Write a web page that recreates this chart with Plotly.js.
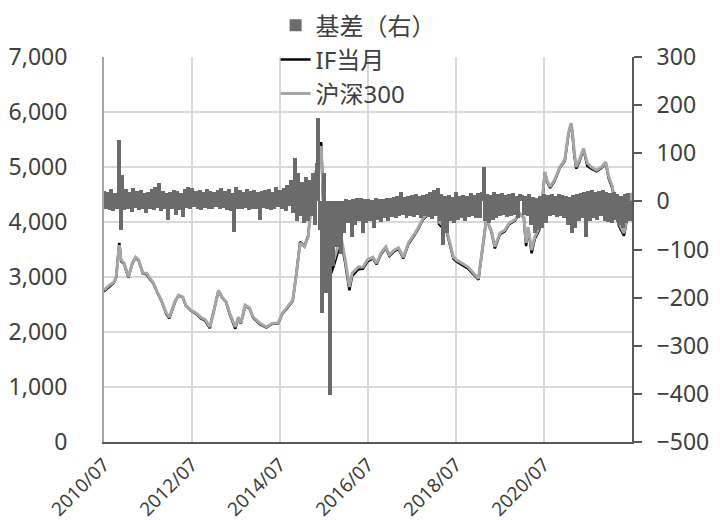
<!DOCTYPE html>
<html>
<head>
<meta charset="utf-8">
<script src="https://cdn.plot.ly/plotly-3.0.1.min.js"></script>
<style>body{margin:0;background:#fff}#chart{width:720px;height:520px}</style>
</head>
<body>
<div id="chart"></div>
<script>
// Index lines (left axis)
const lineDates = ['2010-07-01','2010-08-15','2010-09-20','2010-10-10','2010-11-05','2010-11-20','2010-12-15',
'2011-01-20','2011-02-20','2011-03-20','2011-04-15','2011-05-20','2011-06-20','2011-07-15','2011-08-15','2011-09-20','2011-10-20','2011-12-01','2011-12-25',
'2012-02-15','2012-03-10','2012-04-15','2012-05-10','2012-06-20','2012-08-05','2012-09-10','2012-10-20','2012-11-25','2012-12-25',
'2013-02-05','2013-03-05','2013-04-10','2013-05-10','2013-06-25','2013-07-20','2013-08-10','2013-09-15','2013-10-20','2013-11-20',
'2014-01-15','2014-03-10','2014-05-01','2014-06-15','2014-07-20','2014-09-01','2014-10-15','2014-11-15','2014-12-15',
'2015-01-20','2015-02-20','2015-04-01','2015-05-10','2015-06-08','2015-06-25','2015-07-08','2015-07-20','2015-08-26','2015-09-20','2015-10-25','2015-11-25','2015-12-25',
'2016-01-28','2016-02-20','2016-04-10','2016-05-20','2016-06-25','2016-08-10','2016-09-10','2016-10-15','2016-11-25','2016-12-25',
'2017-02-05','2017-03-10','2017-04-20','2017-06-01','2017-07-15','2017-08-20','2017-10-01','2017-11-15',
'2018-01-25','2018-02-10','2018-03-10','2018-04-15','2018-06-10','2018-07-05','2018-08-20','2018-10-10',
'2019-01-03','2019-01-25','2019-03-10','2019-04-20','2019-05-20','2019-07-01','2019-08-10','2019-09-15','2019-11-01','2019-12-10',
'2020-01-15','2020-02-03','2020-02-20','2020-03-20','2020-04-15','2020-05-25','2020-07-08','2020-07-25','2020-08-20','2020-09-25','2020-11-10','2020-12-20',
'2021-01-20','2021-02-10','2021-02-20','2021-03-10','2021-03-25','2021-04-20','2021-05-25','2021-06-25','2021-07-28','2021-09-10','2021-10-20','2021-11-25','2021-12-20',
'2022-01-20','2022-02-20','2022-03-15','2022-04-25','2022-05-20','2022-06-15','2022-06-30'];

const csi300 = [2760,2850,2900,3000,3580,3310,3250,
3000,3250,3360,3310,3070,3070,2980,2890,2710,2580,2340,2270,
2580,2670,2640,2490,2400,2340,2270,2220,2090,2340,
2760,2640,2550,2340,2090,2270,2160,2490,2440,2270,
2160,2090,2160,2160,2340,2450,2580,3070,3620,
3550,3730,4640,5000,5380,4400,3660,4000,3250,3300,3550,3670,3310,
2820,3070,3180,3180,3310,3360,3250,3430,3550,3400,
3490,3530,3360,3620,3760,3890,4070,4160,
4400,4000,3950,3850,3360,3310,3250,3180,
2970,3310,4040,3850,3550,3800,3850,3980,4040,4160,
4090,3620,3910,3490,3730,3910,4910,4760,4640,4760,5000,5130,
5620,5800,5670,5250,5000,5130,5340,5070,5000,4940,5000,5090,4820,
4640,4160,3980,3800,4090,4400,4530];

const ifMonth = [2740,2830,2890,2990,3620,3290,3240,
2990,3240,3350,3300,3060,3050,2970,2880,2700,2570,2320,2250,
2570,2660,2630,2480,2390,2330,2250,2200,2070,2330,
2750,2630,2540,2320,2060,2250,2150,2480,2430,2260,
2140,2080,2150,2150,2330,2440,2570,3080,3640,
3560,3750,4680,5050,5450,4250,3450,3850,3050,3200,3460,3600,3250,
2760,3020,3140,3150,3280,3340,3230,3410,3530,3380,
3470,3510,3340,3600,3740,3870,4050,4140,
4380,3960,3900,3820,3330,3280,3220,3150,
2950,3300,4050,3830,3520,3780,3830,3960,4020,4150,
4080,3560,3880,3430,3690,3870,4900,4740,4620,4740,4990,5110,
5600,5780,5640,5200,4970,5100,5320,5020,4970,4920,4980,5070,4790,
4610,4120,3930,3750,4050,4370,4510];

// Basis (right axis), twice a month from 2010/07 to 2022/06
const basisStart = [2010, 7];
const basis = [
22,-15,20,-18,25,-20,18,-15,127,-60,55,-18,
25,-15,20,-22,28,-14,22,-18,24,-16,18,-25,20,-15,26,-18,30,-14,38,-20,22,-16,18,-38,
20,-15,24,-28,22,-18,18,-32,25,-14,30,-16,28,-12,22,-15,24,-18,20,-14,26,-16,22,-15,
20,-12,24,-16,28,-14,22,-18,25,-20,18,-63,30,-15,24,-16,20,-14,26,-18,22,-15,24,-16,
20,-38,22,-14,24,-16,26,-18,20,-15,30,-12,24,-16,28,-20,35,-10,45,-25,90,-40,60,-30,
40,-45,50,-40,45,-30,60,-50,80,173,-60,-232,59,-190,-177,-402,-20,-135,-10,-95,-15,-110,-8,-66,
5,-45,3,-73,5,-50,8,-40,6,-66,4,-45,5,-40,3,-55,6,-38,5,-42,4,-35,8,-40,
8,-32,10,-35,12,-30,20,-28,10,-34,12,-30,14,-32,15,-28,12,-35,14,-30,16,-32,20,-36,
24,-30,28,-40,15,-90,12,-66,14,-40,10,-45,20,-38,12,-35,14,-40,12,-32,18,-30,14,-35,
18,-35,20,72,-40,16,-45,14,-38,20,-35,15,-30,18,-28,14,-32,16,-30,18,-28,12,-34,15,
14,-28,12,-30,15,-50,10,-66,8,-60,12,-55,16,-45,14,-30,15,-28,12,-32,16,-30,14,-35,
12,-50,10,-66,14,-55,16,-40,18,-35,20,-73,22,-40,24,-35,20,-38,22,-30,24,-40,20,-42,
18,-45,20,-38,16,-50,12,-55,15,-45,18,-40];

const tickVals = ['2010-07-01','2012-07-01','2014-07-01','2016-07-01','2018-07-01','2020-07-01','2022-07-01'];
const tickText = ['2010/07','2012/07','2014/07','2016/07','2018/07','2020/07',''];

const names = ['基差（右）','IF当月','沪深300'];

const basisDates = [];
{
  let y = basisStart[0], m = basisStart[1];
  for (let i = 0; i < basis.length; i++) {
    const mm = String(m).padStart(2, '0');
    basisDates.push(y + '-' + mm + (i % 2 === 0 ? '-01' : '-16'));
    if (i % 2 === 1) { m++; if (m > 12) { m = 1; y++; } }
  }
}
const DAY = 86400000;

const font = {family: '"Noto Sans", "Noto Sans CJK SC", sans-serif', size: 23, color: '#404040'};

const traces = [
  {type: 'bar', name: names[0], x: basisDates, y: basis, yaxis: 'y2', width: 33 * DAY,
   marker: {color: '#6b6b6b', line: {width: 0}}},
  {type: 'scatter', mode: 'lines', name: names[1], x: lineDates, y: ifMonth,
   line: {color: '#000000', width: 2.5}},
  {type: 'scatter', mode: 'lines', name: names[2], x: lineDates, y: csi300,
   line: {color: '#a6a6a6', width: 3}}
];

const layout = {
  width: 720, height: 520,
  margin: {l: 104, r: 88, t: 57, b: 78, autoexpand: false},
  paper_bgcolor: '#ffffff', plot_bgcolor: '#ffffff',
  font: font,
  bargap: 0,
  showlegend: true,
  legend: {x: 0.325, y: 1.14, xanchor: 'left', yanchor: 'top', bgcolor: 'rgba(0,0,0,0)',
           font: {family: font.family, size: 24, color: '#404040'}, tracegroupgap: 0},
  xaxis: {type: 'date', range: ['2010-07-01', '2022-07-01'],
          tickvals: tickVals, ticktext: tickText, tickangle: -45,
          showgrid: true, gridcolor: '#d9d9d9', gridwidth: 2,
          showline: true, linecolor: '#595959', linewidth: 2, ticks: '',
          ticklabelstandoff: 2, tickfont: {size: 19}},
  yaxis: {range: [0, 7000], dtick: 1000, tickformat: ',d',
          showgrid: true, gridcolor: '#d9d9d9', gridwidth: 2, zeroline: false,
          showline: true, linecolor: '#a6a6a6', linewidth: 2, ticks: '',
          ticklabelstandoff: 30},
  yaxis2: {range: [-500, 300], dtick: 100, overlaying: 'y', side: 'right',
           showgrid: false, zeroline: false, showline: true, linecolor: '#595959', linewidth: 2,
           ticks: 'outside', ticklen: 8, tickcolor: '#595959', tickwidth: 2,
           ticklabelstandoff: 10}
};

Plotly.newPlot('chart', traces, layout, {staticPlot: true, displayModeBar: false});
</script>
</body>
</html>
